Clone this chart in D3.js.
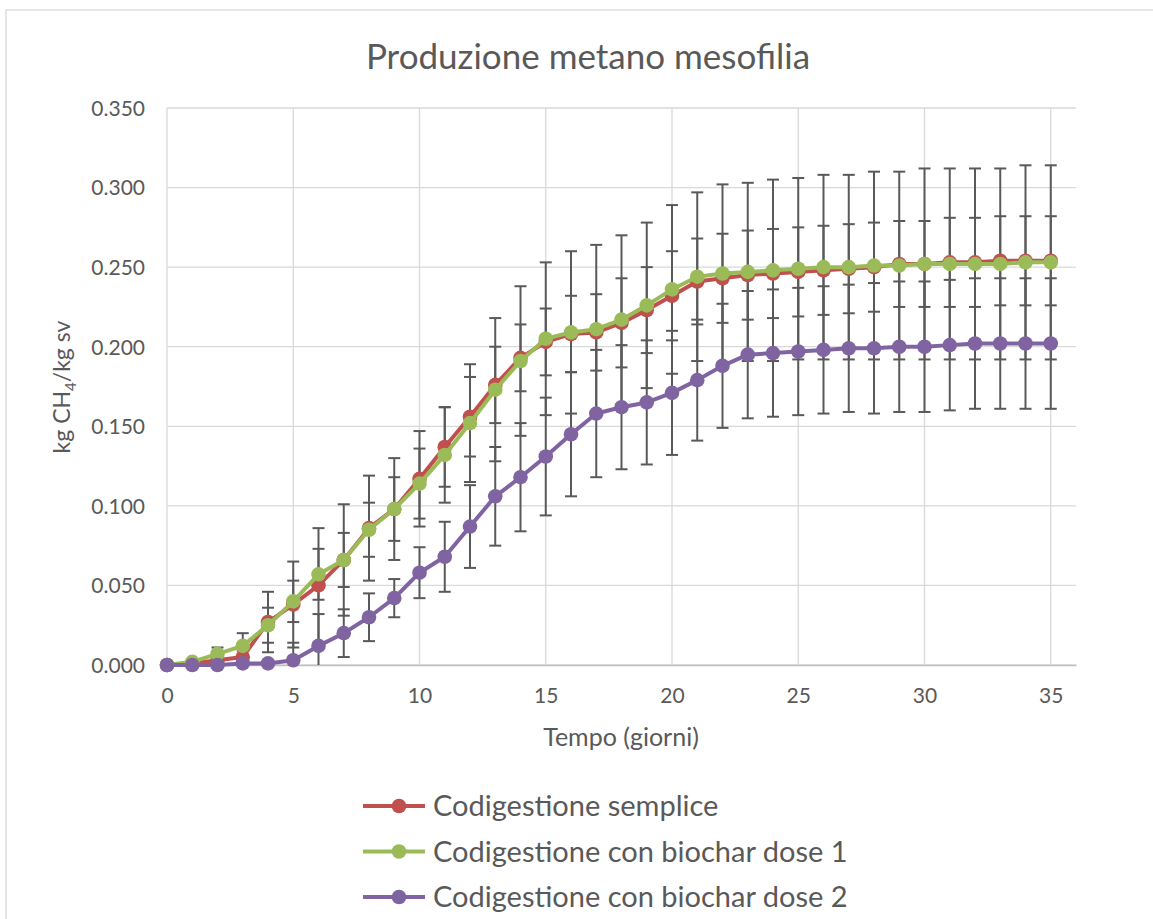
<!DOCTYPE html>
<html>
  <head>
    <meta charset="utf-8">
    <style type="text/css">
      body { margin: 0; background: #fff; }
      text { font-family: Lato, "Noto Sans", sans-serif; fill: #595959; }
      .grid line { stroke: #d9d9d9; stroke-width: 1.3; }
      .err { stroke: #595959; stroke-width: 2; }
    </style>
  </head>
  <body>
    <script src="https://d3js.org/d3.v7.min.js"></script>
    <script>
      // days (giorni)
      var days = [0, 1, 2, 3, 4, 5, 6, 7, 8, 9, 10, 11, 12, 13, 14, 15, 16, 17,
                  18, 19, 20, 21, 22, 23, 24, 25, 26, 27, 28, 29, 30, 31, 32, 33, 34, 35];

      var seriesNames = ["Codigestione semplice", "Codigestione con biochar dose 1", "Codigestione con biochar dose 2"];
      var seriesColors = ["#c0504d", "#9bbb59", "#8064a2"];

      var semplice = [0, 0.001, 0.003, 0.005, 0.027, 0.038, 0.050, 0.066, 0.086, 0.098, 0.117, 0.137,
                      0.156, 0.176, 0.193, 0.203, 0.208, 0.209, 0.215, 0.223, 0.232, 0.241, 0.243, 0.245,
                      0.246, 0.247, 0.248, 0.249, 0.250, 0.252, 0.252, 0.253, 0.253, 0.254, 0.254, 0.254];
      var sempliceErr = [0, 0.001, 0.002, 0.004, 0.019, 0.027, 0.036, 0.035, 0.033, 0.032, 0.030, 0.025,
                         0.025, 0.024, 0.021, 0.021, 0.024, 0.024, 0.028, 0.027, 0.028, 0.027, 0.028, 0.028,
                         0.028, 0.028, 0.028, 0.028, 0.028, 0.027, 0.027, 0.028, 0.028, 0.028, 0.028, 0.028];

      var dose1 = [0, 0.002, 0.007, 0.012, 0.025, 0.040, 0.057, 0.066, 0.085, 0.098, 0.114, 0.132,
                   0.152, 0.173, 0.191, 0.205, 0.209, 0.211, 0.217, 0.226, 0.236, 0.244, 0.246, 0.247,
                   0.248, 0.249, 0.250, 0.250, 0.251, 0.251, 0.252, 0.252, 0.252, 0.252, 0.253, 0.253];
      var dose1Err = [0, 0.001, 0.004, 0.008, 0.011, 0.013, 0.016, 0.017, 0.017, 0.020, 0.022, 0.030,
                      0.037, 0.045, 0.047, 0.048, 0.051, 0.053, 0.053, 0.052, 0.053, 0.053, 0.056, 0.056,
                      0.057, 0.057, 0.058, 0.058, 0.059, 0.059, 0.060, 0.060, 0.060, 0.060, 0.061, 0.061];

      var dose2 = [0, 0, 0, 0.001, 0.001, 0.003, 0.012, 0.020, 0.030, 0.042, 0.058, 0.068,
                   0.087, 0.106, 0.118, 0.131, 0.145, 0.158, 0.162, 0.165, 0.171, 0.179, 0.188, 0.195,
                   0.196, 0.197, 0.198, 0.199, 0.199, 0.200, 0.200, 0.201, 0.202, 0.202, 0.202, 0.202];
      var dose2Err = [0, 0, 0, 0.001, 0.001, 0.011, 0.020, 0.015, 0.015, 0.012, 0.016, 0.022,
                      0.026, 0.031, 0.034, 0.037, 0.039, 0.040, 0.039, 0.039, 0.039, 0.038, 0.039, 0.040,
                      0.040, 0.040, 0.040, 0.040, 0.041, 0.041, 0.041, 0.041, 0.041, 0.041, 0.041, 0.041];

      var xTicks = [0, 5, 10, 15, 20, 25, 30, 35];
      var yTicks = [0, 0.05, 0.1, 0.15, 0.2, 0.25, 0.3, 0.35];

      var width = 1153, height = 919;
      var plot = { left: 167, right: 1076, top: 108, bottom: 665 };

      var series = [
        { name: seriesNames[0], color: seriesColors[0], v: semplice, e: sempliceErr },
        { name: seriesNames[1], color: seriesColors[1], v: dose1, e: dose1Err },
        { name: seriesNames[2], color: seriesColors[2], v: dose2, e: dose2Err }
      ];

      var svg = d3.select("body").append("svg")
          .attr("width", width)
          .attr("height", height);

      // chart border
      svg.append("rect")
          .attr("x", 6).attr("y", 10)
          .attr("width", width).attr("height", height)
          .attr("fill", "none")
          .attr("stroke", "#d9d9d9")
          .attr("stroke-width", 1.3);

      var x = d3.scaleLinear().domain([0, 36]).range([plot.left, plot.right]);
      var y = d3.scaleLinear().domain([0, 0.35]).range([plot.bottom, plot.top]);

      svg.append("defs").append("clipPath").attr("id", "clip")
        .append("rect")
          .attr("x", plot.left - 10).attr("y", plot.top)
          .attr("width", plot.right - plot.left + 20)
          .attr("height", plot.bottom - plot.top);

      // gridlines
      var grid = svg.append("g").attr("class", "grid");
      grid.selectAll(".h").data(yTicks).enter().append("line")
          .attr("x1", plot.left).attr("x2", plot.right)
          .attr("y1", function(d) { return y(d); })
          .attr("y2", function(d) { return y(d); });
      grid.selectAll(".v").data(xTicks).enter().append("line")
          .attr("x1", function(d) { return x(d); })
          .attr("x2", function(d) { return x(d); })
          .attr("y1", plot.top).attr("y2", plot.bottom);

      // axes
      var yAxis = d3.axisLeft(y).tickValues(yTicks).tickSize(0).tickPadding(22)
          .tickFormat(d3.format(".3f"));
      var gy = svg.append("g").attr("transform", "translate(" + plot.left + ",0)").call(yAxis);
      gy.select(".domain").remove();
      gy.selectAll("text").attr("font-size", 21).attr("dy", "0.35em");

      var xAxis = d3.axisBottom(x).tickValues(xTicks).tickSize(0).tickPadding(23);
      var gx = svg.append("g").attr("transform", "translate(0," + plot.bottom + ")").call(xAxis);
      gx.select(".domain").attr("stroke", "#bfbfbf").attr("stroke-width", 1.5);
      gx.selectAll("text").attr("font-size", 21);

      // error bars
      var eg = svg.append("g").attr("clip-path", "url(#clip)");
      series.forEach(function(s) {
        var pts = days.map(function(d, i) { return { d: d, v: s.v[i], e: s.e[i] }; })
            .filter(function(p) { return p.e > 0; });
        var g = eg.append("g").attr("class", "err");
        g.selectAll(".bar").data(pts).enter().append("line")
            .attr("x1", function(p) { return x(p.d); }).attr("x2", function(p) { return x(p.d); })
            .attr("y1", function(p) { return y(p.v - p.e); })
            .attr("y2", function(p) { return y(p.v + p.e); });
        g.selectAll(".capt").data(pts).enter().append("line")
            .attr("x1", function(p) { return x(p.d) - 6; }).attr("x2", function(p) { return x(p.d) + 6; })
            .attr("y1", function(p) { return y(p.v + p.e); })
            .attr("y2", function(p) { return y(p.v + p.e); });
        g.selectAll(".capb").data(pts).enter().append("line")
            .attr("x1", function(p) { return x(p.d) - 6; }).attr("x2", function(p) { return x(p.d) + 6; })
            .attr("y1", function(p) { return y(p.v - p.e); })
            .attr("y2", function(p) { return y(p.v - p.e); });
      });

      // lines + markers
      var line = d3.line()
          .x(function(d, i) { return x(days[i]); })
          .y(function(d) { return y(d); });

      series.forEach(function(s) {
        svg.append("path")
            .datum(s.v)
            .attr("d", line)
            .attr("fill", "none")
            .attr("stroke", s.color)
            .attr("stroke-width", 4)
            .attr("stroke-linejoin", "round");
        svg.append("g").selectAll("circle").data(s.v).enter().append("circle")
            .attr("cx", function(d, i) { return x(days[i]); })
            .attr("cy", function(d) { return y(d); })
            .attr("r", 7.3)
            .attr("fill", s.color);
      });

      // title
      svg.append("text")
          .attr("x", 588).attr("y", 69)
          .attr("text-anchor", "middle")
          .attr("font-size", 35)
          .text("Produzione metano mesofilia");

      // axis titles
      svg.append("text")
          .attr("x", 621).attr("y", 746)
          .attr("text-anchor", "middle")
          .attr("font-size", 25)
          .text("Tempo (giorni)");

      var yt = svg.append("text")
          .attr("transform", "translate(70,387) rotate(-90)")
          .attr("text-anchor", "middle")
          .attr("font-size", 23);
      yt.append("tspan").text("kg CH");
      yt.append("tspan").attr("font-size", 15).attr("dy", 6).text("4");
      yt.append("tspan").attr("dy", -6).text("/kg sv");

      // legend
      var legend = svg.append("g").selectAll("g").data(series).enter().append("g")
          .attr("transform", function(d, i) { return "translate(0," + (806 + i * 45.5) + ")"; });
      legend.append("line")
          .attr("x1", 363).attr("x2", 425).attr("y1", 0).attr("y2", 0)
          .attr("stroke", function(d) { return d.color; })
          .attr("stroke-width", 4);
      legend.append("circle")
          .attr("cx", 399).attr("cy", 0).attr("r", 7.3)
          .attr("fill", function(d) { return d.color; });
      legend.append("text")
          .attr("x", 433).attr("y", 0).attr("dy", "0.35em")
          .attr("font-size", 29)
          .text(function(d) { return d.name; });
    </script>
  </body>
</html>
